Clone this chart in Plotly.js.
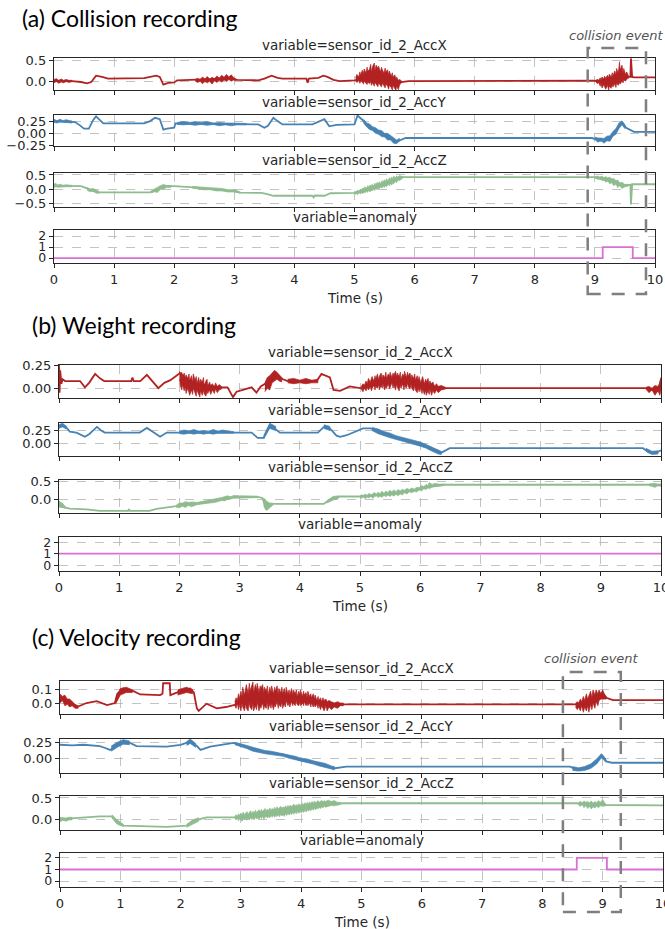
<!DOCTYPE html>
<html><head><meta charset="utf-8">
<script src="https://cdn.plot.ly/plotly-3.0.1.min.js"></script>
<style>html,body{margin:0;padding:0;background:#fff}#chart{width:665px;height:929px}</style>
</head><body><div id="chart"></div>
<script>
// ---------------- DATA ----------------
const timeTicks = [0,1,2,3,4,5,6,7,8,9,10];
const panelTitles = ['(a) Collision recording','(b) Weight recording','(c) Velocity recording'];
const variableNames = ['sensor_id_2_AccX','sensor_id_2_AccY','sensor_id_2_AccZ','anomaly'];
const lineColors = ['#b22222','#4682b4','#8fbc8f','#da70d6'];

// Each signal: a trend line [time s, value] and noise envelopes [time s, low, high] (segments)
// (a) Collision recording
const aAccX = [[0,0.0],[0.3,0.0],[0.45,-0.02],[0.55,-0.05],[0.62,-0.02],[0.7,0.13],[0.8,0.1],[0.9,0.06],[1.5,0.07],[1.6,0.1],[1.7,0.13],[1.76,0.1],[1.82,-0.08],[1.9,-0.04],[2.0,-0.03],[2.05,0.02],[2.35,0.03],[2.6,0.05],[2.9,0.08],[3.05,0.03],[3.4,0.02],[3.5,0.06],[3.62,0.13],[3.72,0.08],[3.8,0.06],[4.2,0.06],[4.22,-0.04],[4.24,0.06],[4.4,0.08],[4.48,0.13],[4.55,0.1],[4.65,0.03],[4.75,0.0],[5.0,0.02],[5.3,0.1],[5.5,0.06],[5.75,-0.03],[5.9,0.0],[8.98,0.01],[9.2,-0.02],[9.45,0.1],[9.59,0.1],[9.6,0.54],[9.62,0.1],[9.65,0.09],[10,0.09]];
const aAccXNoise = [
  [[0,-0.04,0.04],[0.04,-0.01,0.06],[0.08,-0.05,0.02],[0.12,-0.02,0.05],[0.16,-0.04,0.02],[0.2,-0.01,0.04],[0.25,-0.03,0.02],[0.3,-0.01,0.02]],
  [[2.35,0.0,0.04],[2.39,-0.03,0.07],[2.43,0.0,0.03],[2.47,-0.06,0.1],[2.51,-0.01,0.05],[2.55,-0.04,0.11],[2.59,0.0,0.05],[2.63,-0.07,0.09],[2.67,0.01,0.06],[2.71,-0.03,0.12],[2.75,0.02,0.07],[2.79,-0.02,0.14],[2.83,0.03,0.09],[2.87,-0.01,0.16],[2.91,0.04,0.1],[2.95,0.0,0.15],[2.99,0.03,0.08],[3.03,0.01,0.05]],
  [[5.02,0.0,0.08],[5.04,-0.03,0.16],[5.07,0.01,0.1],[5.09,-0.05,0.22],[5.1,0.0,0.14],[5.13,-0.02,0.26],[5.15,-0.07,0.17],[5.16,0.0,0.29],[5.19,-0.04,0.2],[5.21,-0.08,0.33],[5.22,-0.02,0.24],[5.25,-0.06,0.28],[5.27,0.0,0.4],[5.28,-0.1,0.22],[5.3,-0.04,0.35],[5.33,-0.12,0.43],[5.34,-0.03,0.25],[5.36,-0.08,0.38],[5.39,-0.13,0.3],[5.4,-0.04,0.36],[5.43,-0.1,0.22],[5.45,-0.14,0.33],[5.46,-0.05,0.28],[5.49,-0.11,0.19],[5.51,-0.16,0.31],[5.52,-0.07,0.22],[5.55,-0.12,0.27],[5.57,-0.19,0.14],[5.58,-0.09,0.24],[5.61,-0.15,0.12],[5.63,-0.21,0.2],[5.64,-0.1,0.1],[5.67,-0.18,0.15],[5.69,-0.21,0.05],[5.7,-0.12,0.1],[5.73,-0.2,0.02],[5.75,-0.09,0.04],[5.78,-0.04,0.01]],
  [[9.02,-0.02,0.02],[9.04,-0.06,0.05],[9.06,-0.03,0.02],[9.09,-0.12,0.08],[9.1,-0.05,0.03],[9.12,-0.16,0.1],[9.15,-0.08,0.05],[9.16,-0.13,0.12],[9.18,-0.19,0.07],[9.21,-0.1,0.14],[9.23,-0.21,0.08],[9.24,-0.12,0.17],[9.27,-0.17,0.1],[9.29,-0.08,0.2],[9.3,-0.14,0.12],[9.33,-0.06,0.24],[9.35,-0.15,0.16],[9.36,-0.05,0.3],[9.39,-0.1,0.2],[9.41,-0.02,0.46],[9.42,-0.07,0.26],[9.45,0.0,0.38],[9.47,-0.04,0.2],[9.48,0.03,0.3],[9.51,0.0,0.16],[9.53,0.05,0.22],[9.56,0.07,0.12]]];
const aAccY = [[0,0.26],[0.35,0.24],[0.42,0.18],[0.5,0.1],[0.58,0.1],[0.65,0.28],[0.7,0.36],[0.75,0.3],[0.82,0.21],[1.5,0.21],[1.6,0.26],[1.68,0.33],[1.76,0.3],[1.82,0.08],[1.88,0.1],[2.0,0.12],[2.02,0.21],[3.4,0.19],[3.5,0.12],[3.56,0.16],[3.65,0.33],[3.72,0.26],[3.8,0.19],[4.3,0.19],[4.4,0.24],[4.5,0.3],[4.58,0.15],[4.7,0.18],[5.0,0.19],[5.05,0.38],[5.12,0.3],[5.25,0.12],[5.45,0.0],[5.7,-0.18],[5.85,-0.1],[8.95,-0.1],[9.1,-0.16],[9.25,-0.12],[9.35,0.05],[9.45,0.24],[9.52,0.12],[9.58,0.08],[9.65,0.03],[10,0.03]];
const aAccYNoise = [
  [[0,0.23,0.3],[0.05,0.22,0.27],[0.1,0.24,0.3],[0.15,0.22,0.27],[0.2,0.23,0.29],[0.3,0.22,0.26]],
  [[2.05,0.19,0.23],[2.15,0.18,0.25],[2.25,0.19,0.23],[2.35,0.17,0.25],[2.45,0.19,0.23],[2.55,0.17,0.25],[2.65,0.19,0.22],[2.75,0.16,0.23],[2.85,0.18,0.22],[2.95,0.16,0.22],[3.05,0.18,0.21],[3.2,0.18,0.21]],
  [[5.15,0.22,0.3],[5.2,0.14,0.22],[5.25,0.08,0.2],[5.3,0.06,0.14],[5.35,0.0,0.12],[5.4,-0.02,0.07],[5.45,-0.07,0.06],[5.5,-0.08,0.0],[5.55,-0.14,0.0],[5.6,-0.14,-0.05],[5.65,-0.21,-0.08],[5.7,-0.22,-0.14],[5.75,-0.16,-0.11]],
  [[9.0,-0.13,-0.08],[9.05,-0.19,-0.1],[9.1,-0.15,-0.1],[9.15,-0.21,-0.11],[9.2,-0.16,-0.06],[9.25,-0.17,-0.05],[9.3,-0.06,0.04],[9.35,-0.02,0.1],[9.4,0.1,0.22],[9.45,0.18,0.26],[9.5,0.1,0.18]]];
const aAccZ = [[0,0.12],[0.45,0.1],[0.55,0.02],[0.65,-0.08],[0.75,-0.12],[1.6,-0.12],[1.7,-0.02],[1.8,0.1],[2.0,0.1],[2.4,0.05],[2.7,-0.03],[3.0,-0.08],[3.1,-0.13],[3.45,-0.14],[3.55,-0.18],[3.65,-0.24],[4.3,-0.24],[4.32,-0.3],[4.34,-0.23],[4.5,-0.24],[4.6,-0.15],[5.0,-0.14],[5.3,0.0],[5.5,0.18],[5.75,0.42],[5.85,0.42],[8.98,0.42],[9.2,0.3],[9.45,0.12],[9.59,0.15],[9.6,-0.55],[9.62,0.17],[10,0.17]];
const aAccZNoise = [
  [[0,0.05,0.18],[0.03,0.08,0.2],[0.06,0.06,0.14],[0.1,0.08,0.17],[0.15,0.07,0.13],[0.2,0.08,0.15],[0.3,0.08,0.13]],
  [[0.55,-0.04,0.05],[0.6,-0.1,0.0],[0.65,-0.06,0.02],[0.7,-0.15,-0.05],[0.75,-0.15,-0.09]],
  [[1.62,-0.14,-0.06],[1.67,-0.1,0.0],[1.72,-0.12,0.08],[1.77,-0.02,0.12],[1.82,0.0,0.16],[1.87,0.05,0.13],[1.95,0.06,0.12]],
  [[2.3,0.03,0.09],[2.4,0.0,0.08],[2.5,-0.03,0.06],[2.6,-0.02,0.05],[2.7,-0.07,0.03],[2.8,-0.06,0.02],[2.9,-0.11,-0.03],[3.0,-0.1,-0.02],[3.1,-0.15,-0.11]],
  [[5.0,-0.16,-0.12],[5.02,-0.19,-0.08],[5.04,-0.15,-0.1],[5.05,-0.2,-0.04],[5.08,-0.14,-0.07],[5.1,-0.18,0.0],[5.11,-0.13,-0.04],[5.14,-0.16,0.04],[5.16,-0.1,0.0],[5.17,-0.14,0.08],[5.2,-0.08,0.03],[5.22,-0.12,0.12],[5.23,-0.05,0.06],[5.26,-0.1,0.14],[5.28,-0.03,0.09],[5.29,-0.07,0.17],[5.32,0.0,0.12],[5.34,-0.05,0.21],[5.35,0.02,0.14],[5.38,-0.02,0.24],[5.4,0.05,0.17],[5.41,0.0,0.26],[5.44,0.08,0.2],[5.46,0.03,0.3],[5.47,0.1,0.23],[5.5,0.06,0.33],[5.52,0.14,0.26],[5.53,0.08,0.36],[5.56,0.17,0.3],[5.58,0.11,0.4],[5.59,0.2,0.33],[5.62,0.14,0.43],[5.64,0.24,0.36],[5.65,0.18,0.46],[5.68,0.28,0.4],[5.7,0.22,0.47],[5.72,0.32,0.42],[5.75,0.3,0.48],[5.8,0.38,0.44]],
  [[9.0,0.4,0.44],[9.05,0.34,0.46],[9.08,0.38,0.43],[9.12,0.3,0.45],[9.15,0.34,0.41],[9.18,0.24,0.44],[9.21,0.3,0.4],[9.25,0.18,0.42],[9.28,0.24,0.36],[9.31,0.12,0.38],[9.35,0.18,0.3],[9.38,0.05,0.32],[9.41,0.12,0.22],[9.45,0.02,0.24],[9.5,0.08,0.16],[9.55,0.1,0.17]]];
const aAnomaly = [[0,0],[9.13,1],[9.63,0],[10,0]];

// (b) Weight recording
const bAccX = [[0,0.26],[0.01,-0.05],[0.02,0.2],[0.04,0.05],[0.06,0.1],[0.1,0.08],[0.35,0.08],[0.43,0.01],[0.5,0.06],[0.6,0.16],[0.68,0.11],[0.75,0.08],[1.2,0.08],[1.22,0.12],[1.24,0.08],[1.35,0.08],[1.46,0.15],[1.55,0.08],[1.65,0.0],[1.75,0.06],[1.85,0.09],[1.95,0.14],[2.01,0.17],[2.2,0.06],[2.45,0.03],[2.65,0.01],[2.8,0.01],[2.89,-0.1],[2.95,-0.04],[3.2,0.01],[3.28,-0.05],[3.35,0.02],[3.45,0.06],[3.6,0.15],[3.72,0.1],[3.8,0.08],[4.28,0.08],[4.36,0.16],[4.5,0.12],[4.56,-0.02],[4.67,-0.03],[4.83,0.02],[5.0,0.0],[5.5,0.08],[5.85,0.09],[6.0,0.04],[6.4,0.0],[9.75,0.0],[9.85,-0.02],[9.95,-0.03],[10,0.1]];
const bAccXNoise = [
  [[2.0,0.1,0.19],[2.02,0.02,0.16],[2.04,-0.02,0.18],[2.05,0.04,0.12],[2.08,-0.03,0.17],[2.1,0.02,0.09],[2.11,-0.06,0.15],[2.14,0.0,0.11],[2.16,-0.04,0.16],[2.17,-0.08,0.08],[2.2,-0.02,0.14],[2.22,-0.07,0.06],[2.23,0.0,0.16],[2.26,-0.05,0.09],[2.28,-0.09,0.13],[2.29,-0.02,0.05],[2.32,-0.07,0.12],[2.34,-0.1,0.04],[2.35,-0.03,0.1],[2.38,-0.08,0.07],[2.4,-0.02,0.12],[2.41,-0.06,0.03],[2.44,-0.09,0.08],[2.46,-0.03,0.1],[2.47,-0.06,0.02],[2.5,-0.02,0.07],[2.52,-0.07,0.03],[2.55,-0.02,0.05],[2.58,-0.06,0.01],[2.6,-0.01,0.06],[2.63,-0.05,0.02],[2.66,-0.02,0.04],[2.7,-0.01,0.02]],
  [[3.42,-0.04,0.06],[3.46,0.0,0.12],[3.5,-0.02,0.14],[3.54,0.06,0.17],[3.58,0.08,0.2],[3.62,0.1,0.18],[3.66,0.08,0.15],[3.7,0.07,0.12]],
  [[3.8,0.06,0.1],[3.9,0.05,0.11],[4.0,0.06,0.09],[4.1,0.05,0.11],[4.2,0.06,0.09],[4.3,0.06,0.1]],
  [[5.02,-0.01,0.02],[5.05,-0.04,0.05],[5.07,0.0,0.03],[5.1,-0.03,0.08],[5.12,0.01,0.05],[5.14,-0.02,0.11],[5.17,0.02,0.07],[5.19,-0.03,0.1],[5.2,0.0,0.13],[5.23,0.03,0.08],[5.25,-0.02,0.14],[5.26,0.02,0.1],[5.29,0.0,0.16],[5.31,0.04,0.09],[5.32,-0.02,0.13],[5.35,0.03,0.17],[5.37,0.0,0.1],[5.38,0.05,0.15],[5.41,-0.02,0.12],[5.43,0.03,0.18],[5.44,0.0,0.11],[5.47,0.05,0.16],[5.49,-0.01,0.13],[5.5,0.02,0.18],[5.53,0.06,0.12],[5.55,0.0,0.17],[5.56,0.04,0.14],[5.59,-0.02,0.19],[5.61,0.05,0.12],[5.62,0.01,0.17],[5.65,-0.03,0.13],[5.67,0.04,0.18],[5.68,0.0,0.1],[5.71,0.05,0.16],[5.73,-0.02,0.13],[5.74,0.03,0.19],[5.77,0.0,0.12],[5.79,0.06,0.18],[5.8,0.02,0.14],[5.83,-0.01,0.17],[5.85,0.04,0.1],[5.86,0.0,0.15],[5.89,-0.03,0.11],[5.91,0.03,0.16],[5.92,-0.02,0.09],[5.95,-0.05,0.14],[5.97,0.01,0.08],[5.98,-0.04,0.13],[6.01,0.0,0.06],[6.03,-0.06,0.11],[6.04,-0.01,0.13],[6.07,-0.07,0.05],[6.09,-0.02,0.1],[6.1,-0.08,0.07],[6.13,-0.03,0.11],[6.15,-0.07,0.04],[6.16,-0.01,0.08],[6.19,-0.08,0.05],[6.21,-0.03,0.07],[6.24,-0.06,0.02],[6.27,-0.02,0.05],[6.3,-0.05,0.02],[6.35,-0.02,0.03],[6.42,-0.01,0.01]],
  [[9.75,-0.01,0.01],[9.8,-0.05,0.02],[9.85,-0.02,0.0],[9.9,-0.08,0.03],[9.95,-0.03,0.02],[9.98,-0.08,0.05],[10,-0.02,0.12]]];
const bAccY = [[0,0.3],[0.05,0.35],[0.12,0.3],[0.18,0.22],[0.29,0.2],[0.43,0.12],[0.5,0.17],[0.63,0.31],[0.7,0.24],[0.76,0.2],[1.34,0.2],[1.46,0.29],[1.55,0.22],[1.68,0.12],[1.79,0.2],[3.2,0.2],[3.3,0.1],[3.4,0.1],[3.5,0.34],[3.56,0.3],[3.67,0.2],[4.3,0.2],[4.42,0.33],[4.5,0.28],[4.61,0.14],[4.67,0.12],[4.78,0.15],[4.89,0.2],[5.05,0.28],[5.18,0.28],[5.6,0.1],[6.0,-0.02],[6.33,-0.2],[6.49,-0.1],[9.7,-0.1],[9.8,-0.18],[9.9,-0.2],[10,-0.14]];
const bAccYNoise = [
  [[0,0.28,0.35],[0.03,0.3,0.37],[0.06,0.31,0.38],[0.09,0.29,0.35],[0.12,0.27,0.33]],
  [[2.0,0.18,0.23],[2.08,0.17,0.25],[2.16,0.19,0.23],[2.24,0.17,0.26],[2.32,0.19,0.23],[2.4,0.17,0.24],[2.48,0.19,0.22],[2.56,0.17,0.26],[2.64,0.19,0.23],[2.72,0.18,0.25],[2.8,0.19,0.23],[2.9,0.19,0.22]],
  [[3.4,0.08,0.14],[3.5,0.28,0.38],[3.6,0.24,0.32]],
  [[4.4,0.28,0.35],[4.5,0.24,0.32]],
  [[5.2,0.24,0.3],[5.3,0.18,0.27],[5.4,0.14,0.22],[5.5,0.1,0.19],[5.6,0.06,0.14],[5.7,0.03,0.11],[5.8,0.0,0.08],[5.9,-0.03,0.05],[6.0,-0.06,0.02],[6.1,-0.1,-0.03],[6.2,-0.16,-0.08],[6.3,-0.21,-0.14],[6.35,-0.22,-0.16]],
  [[9.75,-0.16,-0.1],[9.85,-0.22,-0.16],[9.95,-0.21,-0.15]]];
const bAccZ = [[0,-0.05],[0.02,-0.2],[0.1,-0.22],[0.18,-0.25],[0.46,-0.27],[0.57,-0.3],[0.68,-0.31],[1.15,-0.31],[1.16,-0.26],[1.18,-0.31],[1.5,-0.31],[1.62,-0.26],[1.95,-0.18],[2.3,-0.12],[2.55,-0.05],[2.9,0.07],[3.3,0.07],[3.38,0.04],[3.42,-0.15],[3.44,-0.28],[3.47,-0.08],[3.5,-0.18],[3.56,-0.12],[4.4,-0.12],[4.5,0.0],[4.6,0.05],[4.67,0.08],[5.0,0.08],[5.5,0.16],[5.9,0.25],[6.1,0.33],[6.3,0.38],[6.4,0.4],[9.8,0.4],[10,0.4]];
const bAccZNoise = [
  [[0,-0.2,-0.05],[0.05,-0.2,-0.1],[0.1,-0.24,-0.18]],
  [[1.95,-0.22,-0.15],[2.0,-0.23,-0.1],[2.05,-0.18,-0.1],[2.1,-0.22,-0.06],[2.15,-0.16,-0.08],[2.2,-0.2,-0.07],[2.3,-0.14,-0.08],[2.4,-0.12,-0.04],[2.5,-0.09,-0.02],[2.6,-0.08,0.02],[2.7,-0.03,0.05],[2.75,-0.04,0.08],[2.8,0.0,0.1],[2.85,0.01,0.07],[2.9,0.03,0.11],[3.0,0.05,0.1],[3.15,0.05,0.1],[3.3,0.05,0.09]],
  [[3.4,-0.18,0.04],[3.45,-0.3,-0.05],[3.5,-0.24,-0.1],[3.55,-0.16,-0.1]],
  [[4.45,-0.1,-0.04],[4.55,-0.02,0.08],[4.65,0.04,0.1]],
  [[5.0,0.06,0.1],[5.03,0.03,0.13],[5.06,0.07,0.1],[5.08,0.02,0.15],[5.12,0.06,0.11],[5.15,0.04,0.17],[5.18,0.08,0.12],[5.21,0.03,0.16],[5.24,0.07,0.19],[5.27,0.1,0.14],[5.3,0.05,0.2],[5.33,0.09,0.15],[5.36,0.06,0.22],[5.4,0.11,0.17],[5.43,0.07,0.23],[5.46,0.12,0.19],[5.5,0.08,0.25],[5.53,0.13,0.2],[5.56,0.09,0.26],[5.6,0.14,0.21],[5.63,0.1,0.27],[5.67,0.15,0.23],[5.7,0.12,0.28],[5.74,0.18,0.25],[5.78,0.15,0.3],[5.82,0.21,0.27],[5.86,0.18,0.31],[5.9,0.22,0.28],[5.94,0.2,0.33],[5.98,0.26,0.32],[6.02,0.23,0.38],[6.06,0.29,0.35],[6.1,0.27,0.41],[6.13,0.32,0.38],[6.15,0.29,0.46],[6.2,0.34,0.41],[6.25,0.33,0.44],[6.3,0.36,0.42],[6.4,0.38,0.42]],
  [[9.8,0.38,0.42],[9.85,0.35,0.43],[9.9,0.33,0.44],[9.95,0.37,0.41],[10,0.36,0.42]]];
const bAnomaly = [[0,1],[10,1]];

// (c) Velocity recording
const cAccX = [[0,0.04],[0.1,0.02],[0.19,0.0],[0.28,-0.03],[0.44,0.0],[0.61,0.015],[0.78,-0.015],[0.91,0.0],[0.95,0.07],[1.05,0.11],[1.22,0.09],[1.33,0.065],[1.66,0.06],[1.7,0.07],[1.71,0.15],[1.82,0.15],[1.83,0.06],[2.0,0.09],[2.16,0.11],[2.22,0.08],[2.27,-0.04],[2.3,-0.06],[2.43,-0.005],[2.6,-0.04],[2.75,-0.03],[2.88,-0.015],[3.2,0.04],[4.0,0.04],[4.4,0.0],[4.7,-0.01],[8.55,-0.01],[8.8,0.0],[9.0,0.08],[9.06,0.04],[9.17,0.022],[10,0.022]];
const cAccXNoise = [
  [[0,0.0,0.07],[0.04,0.02,0.05],[0.08,-0.02,0.06],[0.12,-0.01,0.03],[0.16,-0.03,0.03],[0.2,-0.02,0.01],[0.25,-0.04,-0.01],[0.3,-0.04,-0.02]],
  [[0.92,-0.01,0.03],[1.0,0.06,0.11],[1.1,0.08,0.12],[1.2,0.08,0.1]],
  [[1.95,0.06,0.1],[2.1,0.08,0.12],[2.2,0.07,0.1]],
  [[2.9,-0.02,0.01],[2.92,-0.04,0.04],[2.94,0.0,0.02],[2.96,-0.05,0.07],[2.97,-0.01,0.03],[3.0,-0.06,0.09],[3.02,0.0,0.05],[3.03,-0.03,0.12],[3.06,-0.06,0.06],[3.08,0.0,0.1],[3.09,-0.04,0.14],[3.12,-0.06,0.07],[3.14,0.01,0.15],[3.15,-0.03,0.09],[3.18,-0.05,0.13],[3.2,0.0,0.16],[3.21,-0.06,0.08],[3.24,-0.02,0.14],[3.26,-0.05,0.1],[3.27,0.01,0.15],[3.3,-0.06,0.08],[3.32,-0.02,0.13],[3.33,-0.04,0.11],[3.36,0.0,0.14],[3.38,-0.05,0.07],[3.39,-0.02,0.12],[3.42,-0.04,0.09],[3.44,0.01,0.13],[3.45,-0.05,0.06],[3.48,-0.01,0.12],[3.5,-0.04,0.08],[3.51,0.0,0.13],[3.54,-0.05,0.07],[3.56,-0.01,0.12],[3.57,-0.03,0.09],[3.6,0.01,0.13],[3.62,-0.04,0.06],[3.63,-0.01,0.11],[3.66,-0.03,0.08],[3.68,0.01,0.12],[3.69,-0.04,0.07],[3.72,-0.01,0.11],[3.74,-0.03,0.06],[3.75,0.02,0.12],[3.78,-0.02,0.07],[3.8,0.0,0.1],[3.81,-0.03,0.06],[3.84,0.01,0.11],[3.86,-0.02,0.06],[3.87,0.0,0.1],[3.9,-0.02,0.07],[3.92,0.02,0.1],[3.93,-0.01,0.05],[3.96,-0.02,0.09],[3.98,0.01,0.06],[3.99,-0.02,0.1],[4.02,0.0,0.05],[4.04,-0.02,0.09],[4.05,0.01,0.06],[4.08,-0.02,0.08],[4.1,0.0,0.04],[4.11,-0.02,0.09],[4.14,0.0,0.05],[4.16,-0.03,0.07],[4.17,0.0,0.04],[4.2,-0.03,0.07],[4.22,-0.01,0.03],[4.23,-0.03,0.06],[4.26,-0.01,0.02],[4.28,-0.04,0.05],[4.29,-0.01,0.02],[4.32,-0.05,0.04],[4.34,-0.02,0.01],[4.36,-0.04,0.04],[4.38,-0.06,0.02],[4.41,-0.02,0.03],[4.43,-0.06,0.01],[4.46,-0.03,0.02],[4.5,-0.05,0.01],[4.55,-0.03,0.0],[4.6,-0.04,0.01],[4.65,-0.02,0.0],[4.7,-0.02,0.0]],
  [[8.55,-0.03,0.0],[8.58,-0.05,0.01],[8.6,-0.03,0.0],[8.63,-0.06,0.03],[8.65,-0.02,0.01],[8.68,-0.07,0.05],[8.7,-0.03,0.02],[8.73,-0.06,0.07],[8.75,-0.02,0.03],[8.77,-0.07,0.06],[8.8,-0.01,0.09],[8.82,-0.05,0.04],[8.84,0.0,0.1],[8.87,-0.04,0.06],[8.89,0.01,0.1],[8.92,-0.02,0.07],[8.94,0.02,0.1],[8.97,0.03,0.07],[9.0,0.03,0.1],[9.03,0.03,0.06],[9.06,0.03,0.05]]];
const cAccY = [[0,0.22],[0.2,0.21],[0.39,0.22],[0.5,0.21],[0.66,0.2],[0.75,0.17],[0.83,0.14],[0.88,0.17],[0.94,0.22],[1.05,0.27],[1.16,0.25],[1.27,0.2],[1.77,0.19],[2.0,0.22],[2.16,0.27],[2.27,0.2],[2.33,0.14],[2.49,0.19],[2.75,0.23],[2.88,0.25],[2.99,0.22],[3.21,0.14],[3.43,0.1],[3.7,0.07],[3.98,-0.02],[4.26,-0.07],[4.4,-0.1],[4.53,-0.15],[4.75,-0.12],[8.46,-0.12],[8.57,-0.17],[8.68,-0.16],[8.79,-0.12],[8.9,-0.05],[8.98,0.06],[9.02,0.02],[9.06,-0.04],[9.15,-0.06],[10,-0.06]];
const cAccYNoise = [
  [[0.85,0.12,0.2],[0.95,0.18,0.26],[1.05,0.23,0.3],[1.15,0.22,0.28]],
  [[2.1,0.21,0.27],[2.16,0.24,0.31],[2.25,0.18,0.24]],
  [[2.9,0.22,0.26],[3.0,0.19,0.24],[3.1,0.16,0.21],[3.2,0.12,0.18],[3.3,0.1,0.15],[3.4,0.08,0.13],[3.5,0.07,0.12],[3.6,0.05,0.1],[3.7,0.04,0.09],[3.8,0.01,0.07],[3.9,-0.02,0.04],[4.0,-0.04,0.01],[4.1,-0.06,0.0],[4.2,-0.08,-0.03],[4.3,-0.11,-0.05],[4.4,-0.13,-0.07],[4.5,-0.16,-0.11],[4.55,-0.17,-0.12]],
  [[8.5,-0.18,-0.12],[8.6,-0.19,-0.14],[8.7,-0.18,-0.12],[8.8,-0.15,-0.08],[8.9,-0.08,0.0],[8.98,0.02,0.08],[9.05,-0.05,0.0]]];
const cAccZ = [[0,0.02],[0.22,0.04],[0.4,0.06],[0.66,0.08],[0.86,0.08],[0.94,-0.06],[1.05,-0.13],[1.5,-0.15],[1.77,-0.16],[2.1,-0.13],[2.27,0.0],[2.43,0.06],[2.88,0.06],[3.5,0.14],[4.0,0.25],[4.5,0.36],[4.7,0.38],[8.57,0.38],[8.8,0.34],[9.0,0.36],[9.06,0.34],[10,0.33]];
const cAccZNoise = [
  [[0,-0.04,0.06],[0.05,-0.01,0.05],[0.1,-0.03,0.04],[0.15,0.0,0.06],[0.2,0.0,0.06]],
  [[0.86,0.05,0.12],[0.95,-0.1,0.0],[1.05,-0.15,-0.1]],
  [[2.1,-0.17,-0.1],[2.2,-0.1,0.0],[2.3,-0.03,0.05]],
  [[2.9,0.03,0.09],[2.92,0.0,0.12],[2.94,0.04,0.08],[2.96,-0.02,0.14],[2.98,0.03,0.1],[3.0,0.0,0.16],[3.02,-0.03,0.11],[3.04,0.04,0.18],[3.06,0.0,0.12],[3.08,0.03,0.15],[3.1,-0.01,0.19],[3.12,0.04,0.13],[3.14,0.0,0.17],[3.16,0.05,0.21],[3.18,0.01,0.14],[3.2,0.04,0.2],[3.22,0.0,0.16],[3.24,0.06,0.22],[3.26,0.02,0.17],[3.28,0.05,0.2],[3.3,0.01,0.23],[3.32,0.07,0.18],[3.34,0.03,0.24],[3.36,0.08,0.19],[3.38,0.02,0.22],[3.4,0.06,0.26],[3.42,0.09,0.2],[3.44,0.04,0.25],[3.46,0.08,0.21],[3.48,0.05,0.27],[3.5,0.1,0.22],[3.52,0.06,0.26],[3.54,0.11,0.23],[3.56,0.06,0.29],[3.58,0.1,0.24],[3.6,0.08,0.3],[3.62,0.12,0.25],[3.64,0.07,0.28],[3.66,0.13,0.31],[3.68,0.09,0.26],[3.7,0.12,0.3],[3.72,0.08,0.27],[3.74,0.14,0.32],[3.76,0.1,0.28],[3.78,0.15,0.33],[3.8,0.11,0.29],[3.82,0.16,0.34],[3.84,0.12,0.3],[3.86,0.17,0.33],[3.88,0.13,0.36],[3.9,0.18,0.31],[3.92,0.14,0.35],[3.94,0.19,0.32],[3.96,0.15,0.37],[3.98,0.2,0.33],[4.0,0.16,0.36],[4.02,0.21,0.38],[4.04,0.17,0.34],[4.06,0.22,0.39],[4.08,0.18,0.35],[4.1,0.23,0.4],[4.12,0.2,0.36],[4.14,0.24,0.41],[4.16,0.21,0.37],[4.18,0.26,0.42],[4.2,0.22,0.38],[4.22,0.27,0.43],[4.24,0.23,0.39],[4.26,0.28,0.41],[4.28,0.25,0.44],[4.3,0.29,0.4],[4.32,0.26,0.43],[4.34,0.3,0.45],[4.36,0.27,0.41],[4.38,0.32,0.44],[4.4,0.29,0.42],[4.45,0.31,0.45],[4.5,0.33,0.42],[4.55,0.32,0.44],[4.6,0.34,0.4],[4.65,0.35,0.4]],
  [[8.6,0.34,0.4],[8.63,0.31,0.42],[8.66,0.35,0.39],[8.69,0.28,0.43],[8.72,0.33,0.4],[8.75,0.26,0.42],[8.78,0.31,0.39],[8.81,0.25,0.43],[8.84,0.3,0.38],[8.87,0.27,0.42],[8.9,0.31,0.39],[8.93,0.28,0.44],[8.96,0.32,0.4],[9.0,0.31,0.46],[9.05,0.32,0.36]]];
const cAnomaly = [[0,1],[8.57,2],[9.07,1],[10,1]];

// collision event windows (time, s)
const collisionA = [8.88, 9.85];
const collisionC = [8.34, 9.30];

// ---------------- LAYOUT ----------------
const W = 665, H = 929;
const seriesByGroup = [[aAccX,aAccY,aAccZ,aAnomaly],[bAccX,bAccY,bAccZ,bAnomaly],[cAccX,cAccY,cAccZ,cAnomaly]];
const noiseByGroup = [[aAccXNoise,aAccYNoise,aAccZNoise,[]],[bAccXNoise,bAccYNoise,bAccZNoise,[]],[cAccXNoise,cAccYNoise,cAccZNoise,[]]];
const groups = [
  {x:[54,655], boxes:[[58,90],[115,146],[173,207],[230,263]],
   ranges:[[-0.21,0.55],[-0.27,0.39],[-0.64,0.57],[-0.45,2.55]],
   ticks:[[0,0.5],[-0.25,0,0.25],[-0.5,0,0.5],[0,1,2]], fmt:['.1f','.2f','.1f','d'],
   titleX:20, titleY:18, timeY:298},
  {x:[59,661], boxes:[[365,398],[423,456],[480,513],[537,571]],
   ranges:[[-0.11,0.26],[-0.25,0.385],[-0.37,0.53],[-0.5,2.45]],
   ticks:[[0,0.25],[0,0.25],[0,0.5],[0,1,2]], fmt:['.2f','.2f','.1f','d'],
   titleX:30, titleY:325, timeY:606},
  {x:[60,663], boxes:[[681,714],[739,773],[796,830],[853,887]],
   ranges:[[-0.083,0.167],[-0.22,0.31],[-0.23,0.545],[-0.52,2.43]],
   ticks:[[0,0.1],[0,0.25],[0,0.5],[0,1,2]], fmt:['.1f','.2f','.1f','d'],
   titleX:30, titleY:637, timeY:922}
];
const py = p => 1 - p / H;
const px = p => p / W;
const ink = '#262626';
const tickFont = {family:'DejaVu Sans', size:13, color:ink};
const traces = [], annotations = [], shapes = [];
const layout = {width:W, height:H, margin:{l:0,r:0,t:0,b:0}, showlegend:false,
  paper_bgcolor:'#fff', plot_bgcolor:'#fff', font:{family:'DejaVu Sans', size:13, color:ink}};

groups.forEach((g, gi) => {
  g.boxes.forEach((b, k) => {
    const i = gi * 4 + k + 1;
    const s = seriesByGroup[gi][k];
    const bands = noiseByGroup[gi][k];
    if (bands.length) {
      const bx = [], by = [];
      bands.forEach(seg => {
        seg.forEach(p => { bx.push(p[0]); by.push(p[2]); });
        seg.slice().reverse().forEach(p => { bx.push(p[0]); by.push(p[1]); });
        bx.push(null); by.push(null);
      });
      traces.push({type:'scatter', mode:'lines', x:bx, y:by, xaxis:'x'+i, yaxis:'y'+i,
        fill:'toself', fillcolor:lineColors[k], line:{color:lineColors[k], width:0.7},
        connectgaps:false, hoverinfo:'skip'});
    }
    traces.push({type:'scatter', mode:'lines', x:s.map(p=>p[0]), y:s.map(p=>p[1]),
      xaxis:'x'+i, yaxis:'y'+i, line:{color:lineColors[k], width:1.8, shape: k===3 ? 'hv' : 'linear'},
      hoverinfo:'skip'});
    layout['xaxis'+i] = {domain:[px(g.x[0]), px(g.x[1])], range:[0,10], anchor:'y'+i,
      tickvals:timeTicks, ticktext:timeTicks.map(String), showticklabels:k===3, ticklabeloverflow:'allow',
      ticks:'outside', ticklen:4, tickwidth:1, tickcolor:ink, tickfont:tickFont,
      showgrid:true, gridcolor:'#b4b4b4', griddash:'dash', gridwidth:0.8,
      showline:true, mirror:true, linecolor:ink, linewidth:1.2, zeroline:false};
    layout['yaxis'+i] = {domain:[py(b[1]), py(b[0])], range:g.ranges[k], anchor:'x'+i,
      tickvals:g.ticks[k], tickformat:g.fmt[k], ticks:'outside', ticklen:4, tickwidth:1, tickcolor:ink,
      tickfont: k===3 ? {family:'DejaVu Sans', size:12.5, color:ink} : tickFont,
      showgrid:true, gridcolor:'#b4b4b4', griddash:'dash', gridwidth:0.8,
      showline:true, mirror:true, linecolor:ink, linewidth:1.2, zeroline:false};
    annotations.push({text:'variable=' + variableNames[k], xref:'paper', yref:'paper',
      x:px((g.x[0]+g.x[1])/2), y:py(b[0]-13), xanchor:'center', yanchor:'middle', showarrow:false,
      font:{family:'DejaVu Sans', size:13.5, color:ink}});
  });
  annotations.push({text:panelTitles[gi], xref:'paper', yref:'paper', x:px(g.titleX), y:py(g.titleY),
    xanchor:'left', yanchor:'middle', showarrow:false, font:{family:'Lato', size:23, color:'#000'}});
  annotations.push({text:'Time (s)', xref:'paper', yref:'paper', x:px((g.x[0]+g.x[1])/2), y:py(g.timeY),
    xanchor:'center', yanchor:'middle', showarrow:false, font:{family:'DejaVu Sans', size:13.5, color:ink}});
});

// collision event boxes
[[collisionA, 'x4', 48, 294, 36], [collisionC, 'x12', 672, 912, 658]].forEach(([ev, xr, top, bot, ty]) => {
  shapes.push({type:'rect', xref:xr, yref:'paper', x0:ev[0], x1:ev[1], y0:py(bot), y1:py(top),
    line:{color:'#7f7f7f', width:2.5, dash:'13px,11px'}, fillcolor:'rgba(0,0,0,0)', layer:'above'});
  annotations.push({text:'<i>collision event</i>', xref:xr, yref:'paper', x:(ev[0]+ev[1])/2, y:py(ty),
    xanchor:'center', yanchor:'middle', showarrow:false, font:{family:'DejaVu Sans', size:13, color:'#555'}});
});
layout.annotations = annotations;
layout.shapes = shapes;

Plotly.newPlot('chart', traces, layout, {displayModeBar:false, staticPlot:true});
</script>
</body></html>
